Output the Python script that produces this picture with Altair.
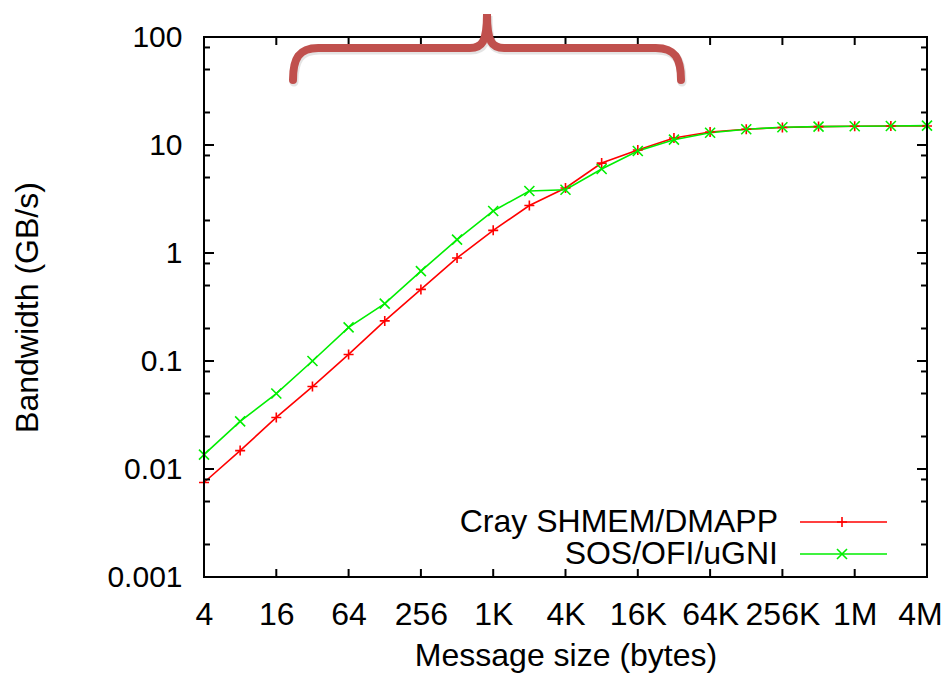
import json
import altair as alt
import pandas as pd

# ---------------- data ----------------
sizes = [4, 8, 16, 32, 64, 128, 256, 512, 1024, 2048, 4096, 8192, 16384,
         32768, 65536, 131072, 262144, 524288, 1048576, 2097152, 4194304]
cray_bw = [0.0075, 0.0148, 0.030, 0.058, 0.115, 0.235, 0.46, 0.90, 1.62, 2.75,
           4.0, 6.8, 9.0, 11.6, 13.2, 14.0, 14.5, 14.8, 14.9, 15.0, 15.0]
sos_bw = [0.0136, 0.0276, 0.050, 0.100, 0.205, 0.34, 0.68, 1.33, 2.45, 3.75,
          3.85, 6.0, 8.8, 11.2, 13.0, 14.0, 14.6, 14.8, 14.9, 15.0, 15.1]
series_names = ["Cray SHMEM/DMAPP", "SOS/OFI/uGNI"]
series_colors = ["#ff0000", "#00ee00"]

x_tick_values = [4, 16, 64, 256, 1024, 4096, 16384, 65536, 262144, 1048576, 4194304]
x_tick_labels = ["4", "16", "64", "256", "1K", "4K", "16K", "64K", "256K", "1M", "4M"]
y_tick_values = [0.001, 0.01, 0.1, 1, 10, 100]
y_tick_labels = ["0.001", "0.01", "0.1", "1", "10", "100"]
y_minor_multipliers = [2, 5, 8]

# ---------------- style ----------------
FONT = "Liberation Sans"
W, H = 723, 540
PLUS = "M-1,0L1,0M0,-1L0,1"
CROSS = "M-1,-1L1,1M-1,1L1,-1"
marker_paths = [PLUS, CROSS]
BRACE = ("M-1,0.170C-1,0.06,-0.97,0.005,-0.87,0.005L-0.088,0.005"
         "C-0.026,0.005,0,-0.026,0,-0.170C0,-0.026,0.026,0.005,0.088,0.005"
         "L0.87,0.005C0.97,0.005,1,0.06,1,0.170")

df = pd.DataFrame({
    "size": sizes * 2,
    "bw": cray_bw + sos_bw,
    "series": [series_names[0]] * len(sizes) + [series_names[1]] * len(sizes),
})

xscale = alt.Scale(type="log", base=2, domain=[sizes[0], sizes[-1]], nice=False)
yscale = alt.Scale(type="log", domain=[y_tick_values[0], y_tick_values[-1]], nice=False)

x_label_expr = f"{json.dumps(x_tick_labels)}[indexof({json.dumps(x_tick_values)}, datum.value)]"
y_label_expr = f"{json.dumps(y_tick_labels)}[indexof({json.dumps(y_tick_values)}, datum.value)]"

x_axis = alt.Axis(values=x_tick_values, labelExpr=x_label_expr, ticks=False, tickSize=0,
                  domain=False, grid=False, labelFontSize=32, labelFont=FONT,
                  labelColor="black", labelPadding=22, labelFlush=False, labelOverlap=False,
                  labelOffset={"condition": {"test": f"datum.value == {x_tick_values[-1]}",
                                             "value": -7}, "value": 0},
                  title="Message size (bytes)", titleFont=FONT, titleFontSize=32,
                  titleFontWeight="normal", titleColor="black", titleX=W / 2, titleY=88,
                  titleAlign="center", titleBaseline="alphabetic")
y_axis = alt.Axis(values=y_tick_values, labelExpr=y_label_expr, ticks=False, tickSize=0,
                  domain=False, grid=False, labelFontSize=30, labelFont=FONT,
                  labelColor="black", labelPadding=22, labelFlush=False, labelOverlap=False,
                  title="Bandwidth (GB/s)", titleFont=FONT, titleFontSize=32,
                  titleFontWeight="normal", titleColor="black", titleAngle=270,
                  titleX=-167, titleY=H / 2, titleAlign="center", titleBaseline="alphabetic")

color = alt.Color("series:N", scale=alt.Scale(domain=series_names, range=series_colors), legend=None)
shape = alt.Shape("series:N", scale=alt.Scale(domain=series_names, range=marker_paths), legend=None)

base = alt.Chart(df)
lines = base.mark_line(strokeWidth=1.6).encode(
    x=alt.X("size:Q", scale=xscale, axis=x_axis),
    y=alt.Y("bw:Q", scale=yscale, axis=y_axis),
    color=color, detail="series:N")
points = base.mark_point(filled=False, size=100, strokeWidth=1.6, opacity=1).encode(
    x=alt.X("size:Q", scale=xscale, axis=x_axis),
    y=alt.Y("bw:Q", scale=yscale, axis=y_axis),
    color=color, shape=shape)

# ---------------- inward ticks (gnuplot style) ----------------
ymaj_df = pd.DataFrame({"size": [4] * len(y_tick_values), "bw": y_tick_values})
ymin_vals = [d * m for d in y_tick_values[:-1] for m in y_minor_multipliers]
ymin_df = pd.DataFrame({"size": [4] * len(ymin_vals), "bw": ymin_vals})
xmaj_df = pd.DataFrame({"size": x_tick_values, "bw": [1] * len(x_tick_values)})


def ytick(data, x0, x1):
    return alt.Chart(data).mark_rule(color="black", strokeWidth=2).encode(
        y=alt.Y("bw:Q", scale=yscale, axis=y_axis), x=alt.value(x0), x2=alt.value(x1))


def xtick(data, y0, y1):
    return alt.Chart(data).mark_rule(color="black", strokeWidth=2).encode(
        x=alt.X("size:Q", scale=xscale, axis=x_axis), y=alt.value(y0), y2=alt.value(y1))


ticks = [
    ytick(ymaj_df, 0, 10), ytick(ymaj_df, W, W - 10),
    ytick(ymin_df, 0, 6), ytick(ymin_df, W, W - 6),
    xtick(xmaj_df, H, H - 8), xtick(xmaj_df, 0, 8),
]

one = alt.Chart(pd.DataFrame({"a": [0]}))
frame = one.mark_rect(filled=False, stroke="black", strokeWidth=2).encode(
    x=alt.value(0), x2=alt.value(W), y=alt.value(0), y2=alt.value(H))

# ---------------- legend (text left of sample, inside plot) ----------------
legend_layers = []
LEG_Y = [485, 517]
for name, col, shp, ly in zip(series_names, series_colors, marker_paths, LEG_Y):
    src = alt.Chart(pd.DataFrame({"series": [name]}))
    legend_layers += [
        src.mark_text(align="right", baseline="alphabetic", fontSize=32, font=FONT,
                      color="black").encode(text="series:N", x=alt.value(574), y=alt.value(ly + 10)),
        src.mark_rule(color=col, strokeWidth=1.6).encode(
            x=alt.value(596), x2=alt.value(683), y=alt.value(ly)),
        src.mark_point(shape=shp, filled=False, size=100, color=col, strokeWidth=1.6,
                       opacity=1).encode(x=alt.value(638), y=alt.value(ly)),
    ]

# ---------------- brace annotation ----------------
brace_shadow = one.mark_point(shape=BRACE, size=150544, filled=False, color="#000000",
                              strokeWidth=9, strokeCap="round", opacity=0.10).encode(
    x=alt.value(284), y=alt.value(12))
brace = one.mark_point(shape=BRACE, size=150544, filled=False, color="#c0504d",
                       strokeWidth=8, strokeCap="round", opacity=1).encode(
    x=alt.value(283), y=alt.value(10))

chart = alt.layer(lines, points, *ticks, frame, *legend_layers, brace_shadow, brace).properties(
    width=W, height=H, autosize=alt.AutoSizeParams(type="none"),
    padding={"left": 196, "top": 29, "right": 16, "bottom": 96},
    background="white",
).configure(font=FONT, view=alt.ViewConfig(stroke="black", strokeWidth=2))

chart.save("out.html", embed_options={"renderer": "svg", "actions": False})
